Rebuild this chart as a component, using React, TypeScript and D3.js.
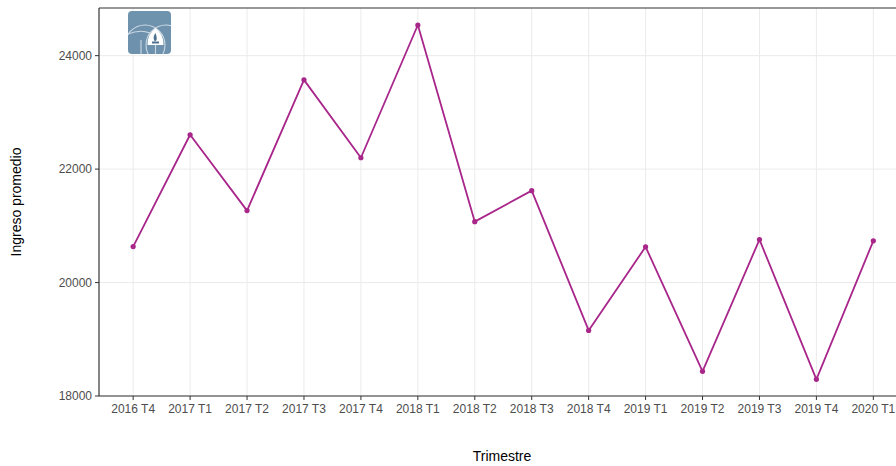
import React from "react";
import * as d3 from "d3";

const quarters = [
  "2016 T4", "2017 T1", "2017 T2", "2017 T3", "2017 T4", "2018 T1", "2018 T2",
  "2018 T3", "2018 T4", "2019 T1", "2019 T2", "2019 T3", "2019 T4", "2020 T1",
];
const income = [
  20634, 22605, 21268, 23573, 22200, 24540, 21074,
  21620, 19156, 20630, 18435, 20757, 18294, 20735,
];
const yTicks = [18000, 20000, 22000, 24000];

const W = 896;
const H = 466;
const left = 99;
const top = 8;
const bottom = 396;
const panelRight = 907.5;

export default function App() {
  const x = d3
    .scalePoint<string>()
    .domain(quarters)
    .range([left, panelRight])
    .padding(0.6);
  const y = d3.scaleLinear().domain([18000, 24840]).range([bottom, top]);
  const line = d3
    .line<number>()
    .x((_, i) => x(quarters[i]) as number)
    .y((d) => y(d));
  const color = "#A8268A";
  const font = "'Liberation Sans', Arial, sans-serif";

  return (
    <svg
      width={W}
      height={H}
      style={{ position: "absolute", left: 0, top: 0, background: "#fff" }}
      fontFamily={font}
    >
      <rect x={0} y={0} width={W} height={H} fill="#fff" />
      {/* grid */}
      {yTicks.map((t) => (
        <line key={"gy" + t} x1={left} x2={W} y1={y(t)} y2={y(t)} stroke="#EBEBEB" strokeWidth={1} />
      ))}
      {quarters.map((q) => (
        <line key={"gx" + q} x1={x(q)} x2={x(q)} y1={top} y2={bottom} stroke="#EBEBEB" strokeWidth={1} />
      ))}
      {/* panel border */}
      <line x1={left} x2={W} y1={top} y2={top} stroke="#333" strokeWidth={1.2} />
      <line x1={left} x2={left} y1={top} y2={bottom} stroke="#333" strokeWidth={1.2} />
      <line x1={left} x2={W} y1={bottom} y2={bottom} stroke="#333" strokeWidth={1.2} />
      {/* logo */}
      <g>
        <clipPath id="logoclip">
          <rect x={128} y={11} width={43} height={43} rx={4} />
        </clipPath>
        <rect x={128} y={11} width={43} height={43} rx={4} fill="#6E93AD" />
        <g clipPath="url(#logoclip)">
          <path
            d="M147.5,45 A20,20 0 0 1 155.5,28 A20,20 0 0 1 163.5,45 Z"
            fill="#fff"
          />
          <g fill="none" stroke="#E3EBF1" strokeWidth={1.1} opacity={0.8}>
            <circle cx={145} cy={45} r={20} />
            <circle cx={166} cy={45} r={20} />
            <line x1={155.5} x2={155.5} y1={45} y2={54} />
            <line x1={141} x2={141} y1={40} y2={54} />
            <path d="M128,34 Q140,29 150,33" />
          </g>
          <path d="M155.5,33 q-3.5,4.5 -0.8,8.5 q3.8,-1 0.8,-8.5 Z" fill="#4E7390" />
          <rect x={152} y={41.5} width={7} height={2} fill="#4E7390" />
        </g>
      </g>
      {/* line and points */}
      <path d={line(income) || ""} fill="none" stroke={color} strokeWidth={1.8} strokeLinejoin="round" />
      {income.map((v, i) => (
        <circle key={"p" + i} cx={x(quarters[i])} cy={y(v)} r={2.6} fill={color} />
      ))}
      {/* y axis */}
      {yTicks.map((t) => (
        <g key={"yt" + t}>
          <line x1={left - 4} x2={left} y1={y(t)} y2={y(t)} stroke="#333" strokeWidth={1} />
          <text x={left - 7} y={y(t)} dy="0.35em" textAnchor="end" fontSize={12} fill="#4D4D4D">
            {t}
          </text>
        </g>
      ))}
      {/* x axis */}
      {quarters.map((q) => (
        <g key={"xt" + q}>
          <line x1={x(q)} x2={x(q)} y1={bottom} y2={bottom + 4} stroke="#333" strokeWidth={1} />
          <text x={x(q)} y={bottom + 17} textAnchor="middle" fontSize={12} fill="#4D4D4D">
            {q}
          </text>
        </g>
      ))}
      <text x={502} y={461} textAnchor="middle" fontSize={14} fill="#000">
        Trimestre
      </text>
      <text
        transform={`translate(21,${(top + bottom) / 2}) rotate(-90)`}
        textAnchor="middle"
        fontSize={14}
        fill="#000"
      >
        Ingreso promedio
      </text>
    </svg>
  );
}
